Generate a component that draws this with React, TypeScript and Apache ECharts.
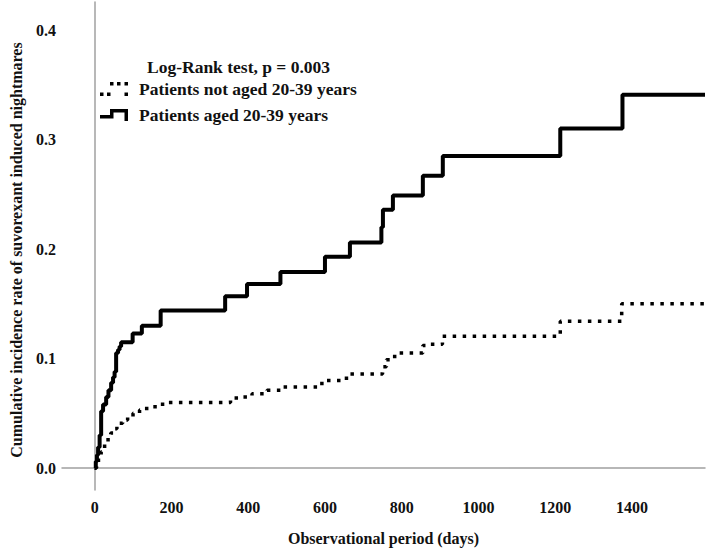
import React, { useEffect, useRef } from "react";
import * as echarts from "echarts";

// Group: patients not aged 20-39 years (dotted)
const notAgedDays = [0, 5, 10, 17, 26, 35, 42, 50, 58, 65, 73, 86, 100, 117, 121, 151, 177, 354, 384, 410, 449, 484, 592, 656, 750, 760, 777, 790, 855, 875, 906, 1213, 1373, 1590];
const notAgedRate = [0, 0.004, 0.009, 0.015, 0.023, 0.028, 0.032, 0.036, 0.039, 0.041, 0.044, 0.047, 0.05, 0.053, 0.0545, 0.056, 0.06, 0.064, 0.065, 0.068, 0.071, 0.074, 0.08, 0.086, 0.0925, 0.099, 0.102, 0.105, 0.112, 0.113, 0.1205, 0.134, 0.15, 0.15];

// Group: patients aged 20-39 years (solid)
const agedDays = [0, 3, 6, 9, 13, 17, 22, 30, 36, 43, 48, 52, 56, 61, 65, 69, 99, 123, 172, 340, 397, 484, 600, 665, 747, 751, 777, 855, 907, 1213, 1375, 1590];
const agedRate = [0, 0.006, 0.012, 0.019, 0.03, 0.052, 0.058, 0.065, 0.071, 0.078, 0.083, 0.088, 0.105, 0.108, 0.111, 0.115, 0.123, 0.13, 0.144, 0.157, 0.168, 0.179, 0.193, 0.206, 0.22, 0.236, 0.249, 0.267, 0.285, 0.31, 0.341, 0.341];

const xTicks = [0, 200, 400, 600, 800, 1000, 1200, 1400];
const yTicks = [0, 0.1, 0.2, 0.3, 0.4];

const seriesNames = ["Patients not aged 20-39 years", "Patients aged 20-39 years"];
const testLabel = "Log-Rank test, p = 0.003";
const xName = "Observational period (days)";
const yName = "Cumulative incidence rate of suvorexant induced nightmares";

const FONT = "'Liberation Serif', 'Times New Roman', serif";

const solidIcon = "path://M0 8 L10 8 L10 2 L28 2 L28 14 L24.5 14 L24.5 5.5 L13.5 5.5 L13.5 11.5 L0 11.5 Z";
const dottedIcon =
  "path://M0 10.5h3.5v3.5h-3.5Z M7 10.5h3.5v3.5h-3.5Z M10 0h3.5v3.5h-3.5Z M17 0h3.5v3.5h-3.5Z M24.5 0h3.5v3.5h-3.5Z M24.5 10.5h3.5v3.5h-3.5Z";

export default function App() {
  const ref = useRef<HTMLDivElement>(null);
  useEffect(() => {
    if (!ref.current) return;
    const chart = echarts.init(ref.current, undefined, { renderer: "svg" });
    const notAged = notAgedDays.map((d, i) => [d, notAgedRate[i]]);
    const aged = agedDays.map((d, i) => [d, agedRate[i]]);
    chart.setOption({
      animation: false,
      backgroundColor: "#fff",
      title: {
        text: testLabel,
        left: 147,
        top: 58,
        padding: 0,
        textStyle: { fontFamily: FONT, fontSize: 17.5, fontWeight: "bold", color: "#111" },
      },
      legend: {
        orient: "vertical",
        left: 100,
        top: 80,
        padding: 0,
        itemWidth: 28,
        itemHeight: 14,
        itemGap: 8,
        selectedMode: false,
        textStyle: { fontFamily: FONT, fontSize: 17.5, fontWeight: "bold", color: "#111", padding: [0, 0, 0, 6] },
        data: [
          { name: seriesNames[0], icon: dottedIcon, itemStyle: { color: "#000", borderWidth: 0 } },
          { name: seriesNames[1], icon: solidIcon, itemStyle: { color: "#000", borderWidth: 0 } },
        ],
      },
      grid: { left: 59, right: 4, top: 2, bottom: 62, containLabel: false },
      xAxis: {
        type: "value",
        min: -85,
        max: 1590,
        name: xName,
        nameLocation: "middle",
        nameGap: 40,
        nameTextStyle: { fontFamily: FONT, fontSize: 16, fontWeight: "bold", color: "#111" },
        axisLine: { show: true, lineStyle: { color: "#a0a0a0", width: 1.5 } },
        axisTick: { show: false },
        splitLine: { show: false },
        axisLabel: {
          customValues: xTicks,
          margin: 9,
          fontFamily: FONT,
          fontSize: 16,
          fontWeight: "bold",
          color: "#111",
          formatter: (v: number) => String(v),
        },
      },
      yAxis: {
        type: "value",
        min: -0.02,
        max: 0.4256,
        name: yName,
        nameLocation: "middle",
        nameGap: 38,
        nameTextStyle: { fontFamily: FONT, fontSize: 16, fontWeight: "bold", color: "#111", padding: [0, 8, 0, 0] },
        axisLine: { show: true, lineStyle: { color: "#a0a0a0", width: 1.5 } },
        axisTick: { show: false },
        splitLine: { show: false },
        axisLabel: {
          customValues: yTicks,
          margin: 6,
          fontFamily: FONT,
          fontSize: 16,
          fontWeight: "bold",
          color: "#111",
          formatter: (v: number) => v.toFixed(1),
        },
      },
      series: [
        {
          name: seriesNames[0],
          type: "line",
          step: "end",
          showSymbol: false,
          data: notAged,
          lineStyle: { color: "#000", width: 3.5, type: [3.5, 6.5], cap: "butt" },
          itemStyle: { color: "#000" },
        },
        {
          name: seriesNames[1],
          type: "line",
          step: "end",
          showSymbol: false,
          data: aged,
          lineStyle: { color: "#000", width: 4 },
          itemStyle: { color: "#000" },
        },
      ],
    });
    return () => chart.dispose();
  }, []);
  return <div ref={ref} style={{ position: "absolute", left: 0, top: 0, width: 709, height: 552 }} />;
}
